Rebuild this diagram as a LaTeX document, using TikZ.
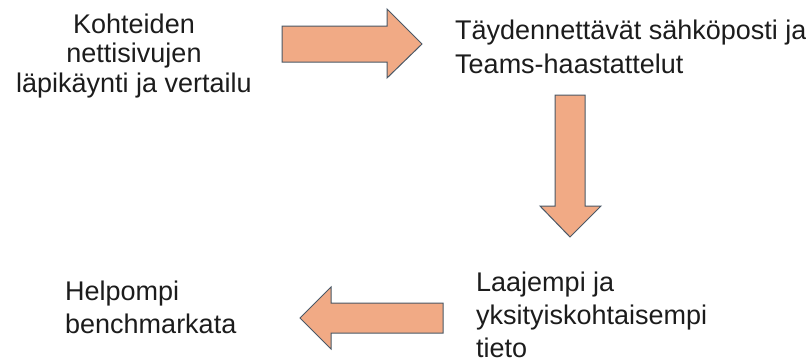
\documentclass[tikz,border=0pt]{standalone}
\usepackage{fontspec}
\setmainfont{Liberation Sans}
\usepackage{tikz}
\usetikzlibrary{positioning}
\definecolor{arrowfill}{HTML}{F1AA85}
\definecolor{arrowline}{HTML}{4A5866}
\definecolor{textcol}{HTML}{1C1C1C}

\begin{document}
\begin{tikzpicture}[x=1pt,y=-1pt]

    % canvas of the reference
    \useasboundingbox (0,0) rectangle (806,362);

    % text blocks, placed at the baseline of their last line
    \begin{scope}[every node/.style={inner sep=0pt,text=textcol,font=\fontsize{27}{33}\selectfont}]
    \node[anchor=base,align=center,font=\fontsize{27}{29.5}\selectfont] (verkko) at (134,92) {Kohteiden\\nettisivujen\\läpikäynti ja vertailu};
    \node[anchor=base west,align=left,font=\fontsize{27}{34}\selectfont] (haastattelu) at (455,73) {Täydennettävät sähköposti ja\\Teams-haastattelut};
    \node[anchor=base west,align=left] (tieto) at (476,357) {Laajempi ja\\yksityiskohtaisempi\\tieto};
    \node[anchor=base west,align=left] (vertailu) at (65,333) {Helpompi\\benchmarkata};
    \end{scope}

    % block arrows between the steps
    \begin{scope}[every path/.style={fill=arrowfill,draw=arrowline,line width=1pt,line join=miter}]
    \path (282,26) -- (387,26) -- (387,9) -- (422,44) -- (387,78) -- (387,62) -- (282,62) -- cycle;
    \path (555,95) -- (585,95) -- (585,206) -- (601,206) -- (570,237) -- (540,206) -- (555,206) -- cycle;
    \path (443,303) -- (331,303) -- (331,287) -- (300,318) -- (331,349) -- (331,333) -- (443,333) -- cycle;
    \end{scope}

\end{tikzpicture}
\end{document}
